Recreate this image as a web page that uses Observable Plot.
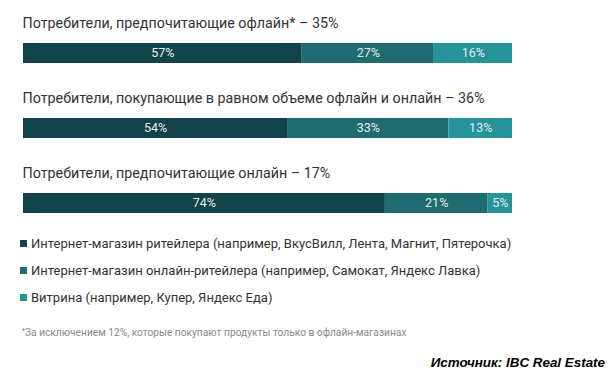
<!DOCTYPE html>
<html>
<head>
<meta charset="utf-8">
<script src="https://cdn.jsdelivr.net/npm/d3@7"></script>
<script src="https://cdn.jsdelivr.net/npm/@observablehq/plot@0.6"></script>
<style>
  html, body { margin: 0; padding: 0; background: #fff; }
  body { width: 614px; height: 379px; position: relative; overflow: hidden; font-family: Roboto, "Noto Sans", sans-serif; }
  #chart { position: absolute; left: 0; top: 0; }
  .leg { position: absolute; left: 20px; font-size: 13px; color: #333; line-height: 16px; white-space: nowrap; }
  .sw { display: inline-block; width: 7px; height: 7px; margin-right: 4px; vertical-align: 1px; }
  #note { position: absolute; left: 22px; top: 325px; font-size: 10.2px; color: #888; line-height: 12px; white-space: nowrap; }
  #note sup { font-size: 7px; vertical-align: 3px; }
  #src { position: absolute; right: 9px; top: 354px; font-family: "Liberation Sans Narrow", "Liberation Sans", Arial, sans-serif; font-stretch: condensed; font-weight: bold; font-style: italic; font-size: 13.4px; color: #000; line-height: 18px; white-space: nowrap; }
</style>
</head>
<body>
<div id="chart"></div>
<div id="legend"></div>
<div id="note"><sup>*</sup>За исключением 12%, которые покупают продукты только в офлайн-магазинах</div>
<div id="src">Источник: IBC Real Estate</div>
<script>
const categories = [
  "Потребители, предпочитающие офлайн* – 35%",
  "Потребители, покупающие в равном объеме офлайн и онлайн – 36%",
  "Потребители, предпочитающие онлайн – 17%"
];
const series = [
  "Интернет-магазин ритейлера (например, ВкусВилл, Лента, Магнит, Пятерочка)",
  "Интернет-магазин онлайн-ритейлера (например, Самокат, Яндекс Лавка)",
  "Витрина (например, Купер, Яндекс Еда)"
];
const retailerValues = [57, 54, 74];
const onlineRetailerValues = [27, 33, 21];
const showcaseValues = [16, 13, 5];
const colors = ["#12434a", "#1e6b70", "#26929a"];

const seriesValues = [retailerValues, onlineRetailerValues, showcaseValues];
const data = [];
categories.forEach((c, i) => {
  series.forEach((s, j) => data.push({cat: c, series: s, value: seriesValues[j][i]}));
});

const chart = Plot.plot({
  width: 614,
  height: 225,
  marginLeft: 23,
  marginRight: 102,
  marginTop: 15,
  marginBottom: 0,
  style: {fontFamily: "Roboto, 'Noto Sans', sans-serif", background: "transparent"},
  x: {domain: [0, 100], axis: null},
  y: {domain: categories, range: [15, 240], padding: 0, axis: null},
  color: {domain: series, range: colors},
  marks: [
    Plot.barX(data, Plot.stackX({x: "value", y: "cat", z: "series", fill: "series", insetTop: 28, insetBottom: 27, order: null})),
    Plot.text(data, Plot.stackX({x: "value", y: "cat", z: "series", text: d => d.value + "%", fill: "#e4ecec", fontSize: 12.5, order: null})),
    Plot.text(categories, {x: () => 0, y: d => d, text: d => d, textAnchor: "start", dy: -30, dx: -1, fontSize: 14.3, fill: "#333"})
  ]
});
document.getElementById("chart").appendChild(chart);

const legendTops = [236, 263, 290];
const legend = document.getElementById("legend");
series.forEach((s, j) => {
  const row = document.createElement("div");
  row.className = "leg";
  row.style.top = legendTops[j] + "px";
  const sw = document.createElement("span");
  sw.className = "sw";
  sw.style.background = colors[j];
  row.appendChild(sw);
  row.appendChild(document.createTextNode(s));
  legend.appendChild(row);
});
</script>
</body>
</html>
